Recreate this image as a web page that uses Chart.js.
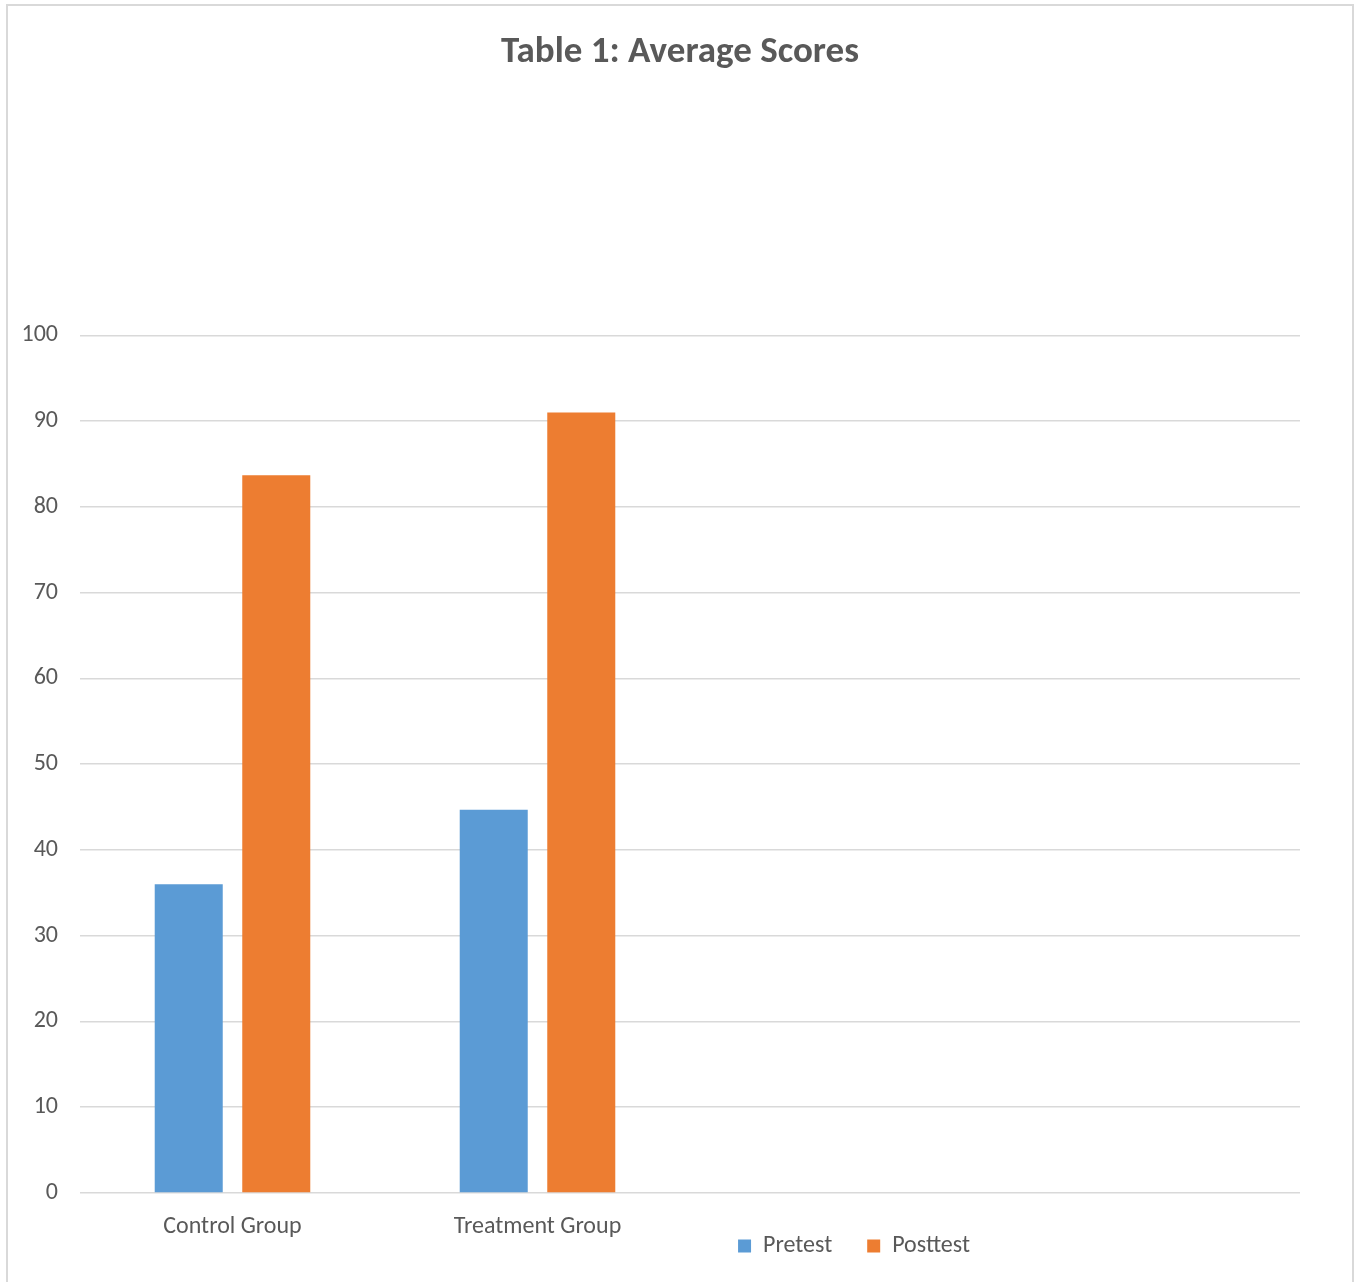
<!DOCTYPE html>
<html>
<head>
<meta charset="utf-8">
<title>Average Scores</title>
<script src="https://cdn.jsdelivr.net/npm/chart.js@4.4.0/dist/chart.umd.min.js"></script>
<style>
  body { margin: 0; background: #fff; }
  .frame {
    position: absolute;
    left: 6px;
    top: 4px;
    width: 1344px;
    height: 1305px;
    border: 2px solid #d9d9d9;
  }
  canvas { display: block; }
</style>
</head>
<body>
<div class="frame">
  <canvas id="myChart" width="1344" height="1305"></canvas>
</div>
<script>
const categories = ["Control Group", "Treatment Group", "", ""];
const pretest = [36, 44.7];
const posttest = [83.7, 91];
const yMin = 0;
const yMax = 100;
const yStep = 10;

const textColor = "#595959";
const fontFamily = "Carlito, Calibri, Lato, sans-serif";

// legend goes to the right under the empty categories, level with the
// axis labels; title stays centred on the whole canvas
const boxOffsets = {
  id: "boxOffsets",
  afterLayout(chart) {
    const lg = chart.legend;
    lg.left += 200;
    lg.right += 200;
    lg.top -= 43;
    lg.bottom -= 43;
    chart.titleBlock.right += 52;
  }
};

var ctx = document.getElementById("myChart").getContext("2d");
var myChart = new Chart(ctx, {
  type: "bar",
  data: {
    labels: categories,
    datasets: [
      {
        label: "Pretest",
        data: pretest,
        backgroundColor: "#5B9BD5",
        categoryPercentage: 0.574,
        barPercentage: 0.777,
      },
      {
        label: "Posttest",
        data: posttest,
        backgroundColor: "#ED7D31",
        categoryPercentage: 0.574,
        barPercentage: 0.777,
      },
    ],
  },
  options: {
    responsive: false,
    animation: false,
    layout: {
      padding: { left: 0, right: 52, top: 0, bottom: 0 },
    },
    plugins: {
      title: {
        display: true,
        text: "Table 1: Average Scores",
        color: textColor,
        font: { family: fontFamily, size: 37, weight: "bold" },
        padding: { top: 25, bottom: 260 },
      },
      legend: {
        position: "bottom",
        labels: {
          color: textColor,
          font: { family: fontFamily, size: 24 },
          boxWidth: 13,
          boxHeight: 13,
          padding: 35,
        },
      },
      tooltip: { enabled: false },
    },
    scales: {
      x: {
        grid: { display: false, drawTicks: false },
        border: { display: false },
        ticks: {
          color: textColor,
          font: { family: fontFamily, size: 24 },
          padding: 20,
        },
        afterFit(scale) {
          scale.height = 49;
        },
      },
      y: {
        min: yMin,
        max: yMax,
        grid: { color: "#d9d9d9", lineWidth: 1.5, drawTicks: false },
        border: { display: false },
        ticks: {
          stepSize: yStep,
          color: textColor,
          font: { family: fontFamily, size: 24 },
          padding: 22,
        },
        afterFit(scale) {
          scale.width = 72;
        },
      },
    },
  },
  plugins: [boxOffsets],
});
</script>
</body>
</html>
